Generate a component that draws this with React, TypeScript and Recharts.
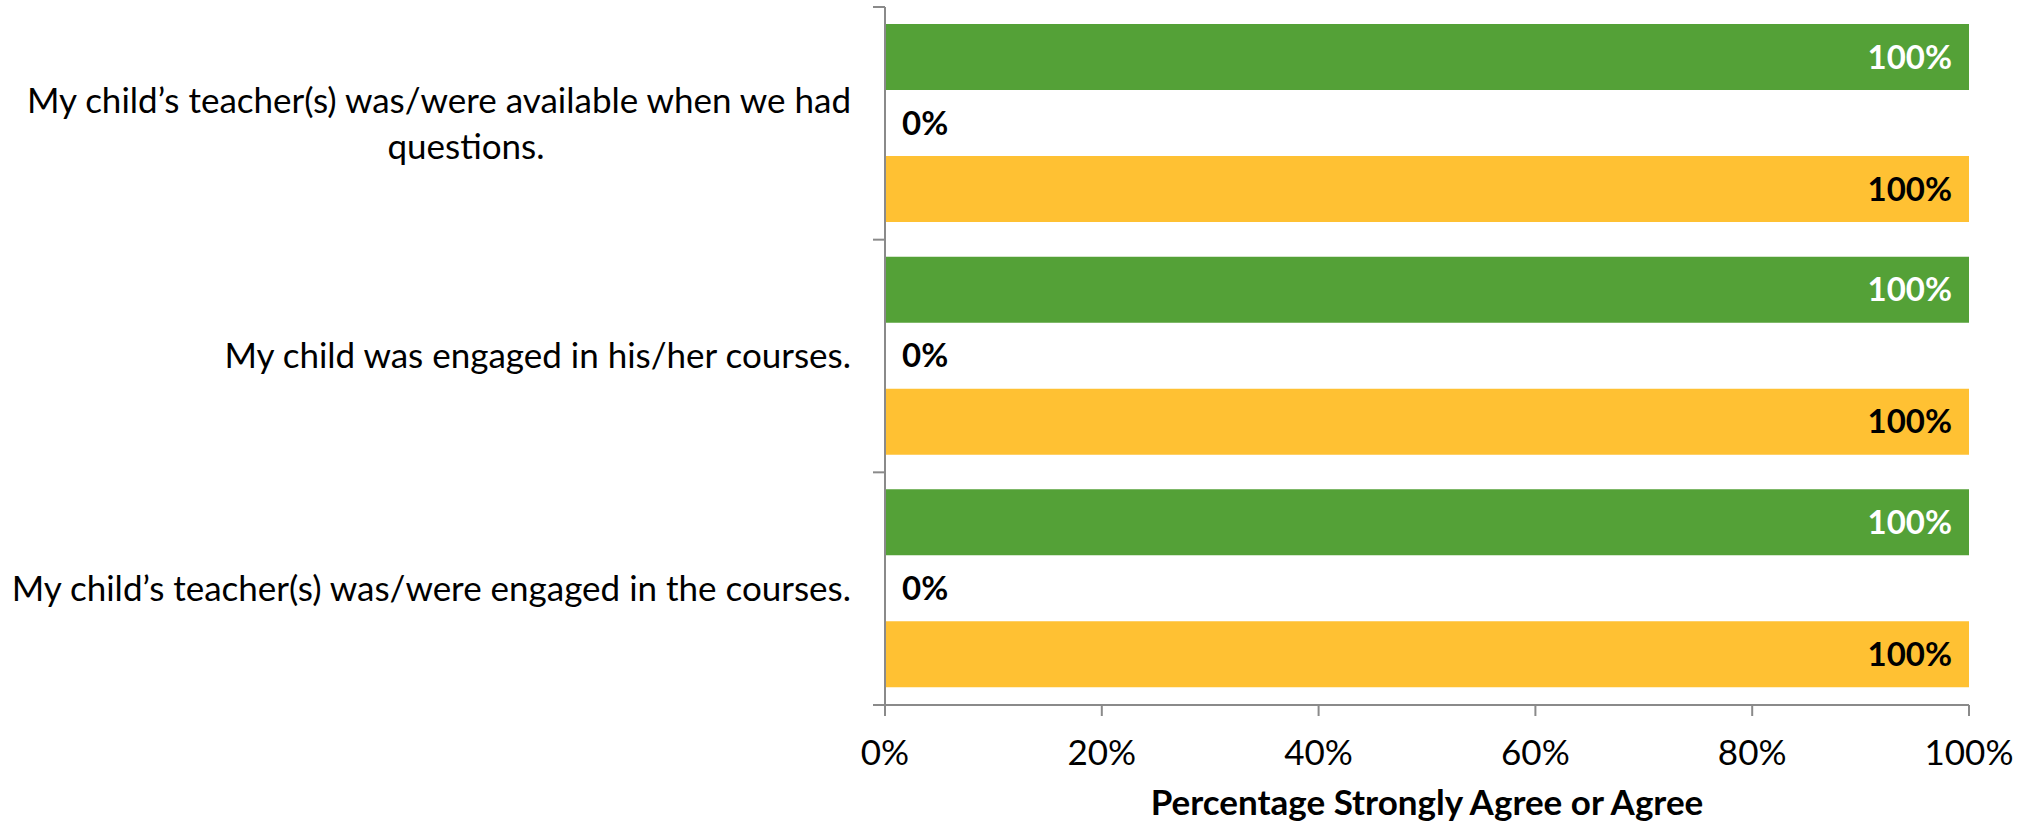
import React from 'react';
import { BarChart, Bar, XAxis, YAxis, LabelList, Label } from 'recharts';

// Survey statements (top to bottom)
const categories = [
  'My child’s teacher(s) was/were available when we had questions.',
  'My child was engaged in his/her courses.',
  'My child’s teacher(s) was/were engaged in the courses.',
];

// Share answering "Strongly Agree or Agree" per group
const greenValues = [1, 1, 1];
const middleValues = [0, 0, 0];
const yellowValues = [1, 1, 1];

const xTicks = [0, 0.2, 0.4, 0.6, 0.8, 1];

const data = categories.map((name, i) => ({
  name,
  green: greenValues[i],
  middle: middleValues[i],
  yellow: yellowValues[i],
}));

const pct = (v: number) => `${Math.round(v * 100)}%`;

const AXIS_COLOR = '#8a8a8a';
const FONT = 'Lato, "Open Sans", sans-serif';
const FS = 35;
const LABEL_FS = 33;
const TICK_GAP = 34;

// wrap long labels into a couple of lines
const wrapLabel = (text: string, max: number) => {
  const words = text.split(' ');
  const lines: string[] = [];
  let cur = '';
  words.forEach((w) => {
    const next = cur ? `${cur} ${w}` : w;
    if (next.length > max && cur) {
      lines.push(cur);
      cur = w;
    } else {
      cur = next;
    }
  });
  if (cur) lines.push(cur);
  return lines;
};

// category label + tick marks on the band boundaries (Excel style)
const CategoryTick = ({ x, y, payload, index }: any) => {
  const lines = wrapLabel(payload.value, 54);
  const half = payload.offset || 0;
  const axisX = x + TICK_GAP;
  const tickLine = (ty: number, key: string) => (
    <line key={key} x1={axisX - 12} x2={axisX} y1={ty} y2={ty} stroke={AXIS_COLOR} strokeWidth={2} />
  );
  return (
    <g>
      {tickLine(y - half, 'top')}
      {index === categories.length - 1 && tickLine(y + half, 'bottom')}
      {lines.length === 1 ? (
        <text x={x} y={y} dy="0.35em" textAnchor="end" fontSize={FS} fill="#000" fontFamily={FONT}>
          {lines[0]}
        </text>
      ) : (
        <>
          <text x={x} y={y - 23} dy="0.35em" textAnchor="end" fontSize={FS} fill="#000" fontFamily={FONT}>
            {lines[0]}
          </text>
          <text x={x - 385} y={y + 23} dy="0.35em" textAnchor="middle" fontSize={FS} fill="#000" fontFamily={FONT}>
            {lines[1]}
          </text>
        </>
      )}
    </g>
  );
};

const App = () => {
  return (
    <div
      style={{
        position: 'absolute',
        left: 0,
        top: 0,
        width: 2028,
        height: 825,
        background: '#fff',
        fontFamily: FONT,
      }}
    >
      <BarChart
        width={2028}
        height={825}
        data={data}
        layout="vertical"
        margin={{ top: 7, right: 59, bottom: 0, left: 0 }}
        barCategoryGap={17}
        barGap={0}
      >
        <XAxis
          type="number"
          domain={[0, 1]}
          ticks={xTicks}
          tickFormatter={pct}
          height={120}
          tickSize={11}
          tickMargin={24}
          axisLine={{ stroke: AXIS_COLOR, strokeWidth: 2 }}
          tickLine={{ stroke: AXIS_COLOR, strokeWidth: 2 }}
          tick={{ fill: '#000', fontSize: FS, fontFamily: FONT }}
        >
          <Label
            value="Percentage Strongly Agree or Agree"
            position="insideBottom"
            offset={10}
            fill="#000"
            fontSize={FS}
            fontWeight="bold"
            fontFamily={FONT}
          />
        </XAxis>
        <YAxis
          type="category"
          dataKey="name"
          width={885}
          tickSize={0}
          tickMargin={TICK_GAP}
          axisLine={{ stroke: AXIS_COLOR, strokeWidth: 2 }}
          tickLine={false}
          tick={<CategoryTick />}
          interval={0}
        />
        <Bar dataKey="green" fill="#54A137" isAnimationActive={false}>
          <LabelList
            dataKey="green"
            position="insideRight"
            offset={17}
            formatter={pct}
            fill="#fff"
            fontSize={LABEL_FS}
            fontWeight="bold"
            fontFamily={FONT}
          />
        </Bar>
        <Bar dataKey="middle" fill="none" minPointSize={1} isAnimationActive={false}>
          <LabelList
            dataKey="middle"
            position="right"
            offset={16}
            formatter={pct}
            fill="#000"
            fontSize={LABEL_FS}
            fontWeight="bold"
            fontFamily={FONT}
          />
        </Bar>
        <Bar dataKey="yellow" fill="#FFC133" isAnimationActive={false}>
          <LabelList
            dataKey="yellow"
            position="insideRight"
            offset={17}
            formatter={pct}
            fill="#000"
            fontSize={LABEL_FS}
            fontWeight="bold"
            fontFamily={FONT}
          />
        </Bar>
      </BarChart>
    </div>
  );
};

export default App;
